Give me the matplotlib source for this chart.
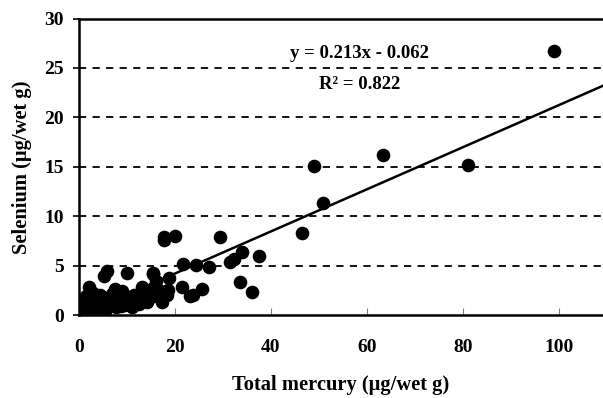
import numpy as np
import matplotlib
matplotlib.use("Agg")
import matplotlib.pyplot as plt

# total mercury (ug/wet g) and selenium (ug/wet g)
mercury = [
    0.4, 0.6, 0.8, 1.0, 1.1, 1.3, 1.5, 1.7, 1.9, 2.0, 2.2, 2.4, 2.6, 2.8, 3.0,
    3.2, 3.4, 3.6, 3.8, 4.0, 4.2, 4.5, 4.8, 5.0, 5.3, 5.5, 5.8, 6.0, 6.3, 6.6,
    7.0, 7.2, 7.5, 7.8, 8.0, 8.3, 8.6, 9.0, 9.4, 9.8, 10.2, 10.6, 11.0, 11.5,
    12.0, 12.4, 13.0, 13.5, 14.0, 14.6, 15.2, 16.0, 16.8, 17.5, 18.5, 2.1, 7.6,
    9.0, 13.2, 16.0, 5.9, 5.2, 10.1, 15.5, 15.8, 15.5, 17.4, 18.3, 5.0, 11.0,
    3.0, 17.7, 17.7, 20.0, 29.4, 34.0, 32.3, 31.5, 37.6, 27.1, 24.4, 21.7,
    18.8, 15.5, 21.4, 25.6, 23.1, 23.8, 33.5, 36.0, 46.4, 49.0, 50.8, 63.4,
    81.0, 99.0, 0.5, 1.4, 2.9, 4.4, 6.8, 8.8, 12.6, 14.2,
]
selenium = [
    1.2, 0.5, 0.9, 1.4, 0.3, 0.7, 1.0, 1.6, 0.4, 1.2, 0.8, 1.5, 0.6, 1.1, 1.8,
    0.9, 1.3, 0.5, 1.0, 1.6, 1.2, 0.8, 1.4, 1.0, 1.7, 0.4, 1.2, 1.5, 0.9, 1.3,
    1.8, 1.1, 1.5, 0.8, 1.3, 1.9, 1.2, 1.6, 1.0, 1.4, 1.8, 1.2, 1.6, 2.0,
    1.4, 1.8, 2.2, 1.6, 2.0, 1.7, 2.3, 2.0, 2.4, 2.2, 2.5, 2.8, 2.6,
    2.4, 2.8, 3.45, 4.5, 3.95, 4.3, 4.3, 2.9, 1.9, 1.3, 2.0, 0.3, 0.8,
    0.2, 7.6, 7.9, 8.0, 7.9, 6.4, 5.7, 5.4, 6.0, 4.9, 5.1, 5.2,
    3.75, 4.2, 2.8, 2.6, 1.9, 2.0, 3.3, 2.3, 8.3, 15.1, 11.3, 16.2,
    15.2, 26.7, 0.8, 1.9, 2.2, 2.0, 2.1, 0.9, 1.1, 1.3,
]

slope, intercept, r2 = 0.213, -0.062, 0.822

fig = plt.figure(figsize=(6.03, 3.98), dpi=100)
ax = fig.add_axes([0.131, 0.2085, 0.869, 0.745])

plt.rcParams['font.family'] = ['Liberation Serif', 'DejaVu Serif']
bold = dict(family=['Liberation Serif', 'DejaVu Serif'], fontweight='bold')

ax.plot(mercury, selenium, 'o', color='black', markersize=8.8, zorder=3)

xmax = 109.2
xs = np.array([0, xmax])
ax.plot(xs, slope * xs + intercept, color='black', lw=1.8, zorder=2)

ax.set_xlim(0, xmax)
ax.set_ylim(0, 30)
ax.set_xticks([0, 20, 40, 60, 80, 100])
ax.set_yticks([0, 5, 10, 15, 20, 25, 30])
for yv in [5, 10, 15, 20, 25]:
    ax.axhline(yv, color='black', lw=1.3, ls=(0, (4, 3.5)), zorder=1)

ax.spines['right'].set_visible(False)
for s in ['left', 'bottom', 'top']:
    ax.spines[s].set_linewidth(1.8)
ax.tick_params(axis='x', direction='in', length=5, width=0.8, color='gray', pad=17)
ax.tick_params(axis='y', direction='out', length=4, width=1.2, pad=7)
for lab in ax.get_xticklabels() + ax.get_yticklabels():
    lab.set_fontsize(14)
    lab.set_fontweight('bold')
    lab.set_family(['Liberation Serif', 'DejaVu Serif'])

ax.set_xlabel('Total mercury (µg/wet g)', fontsize=14.8, labelpad=14, **bold)
ax.set_ylabel('Selenium (µg/wet g)', fontsize=14.8, labelpad=9, **bold)

ax.text(58.5, 26.5, 'y = %.3fx - %.3f' % (slope, -intercept), ha='center', va='center',
        fontsize=13.5, **bold)
ax.text(58.5, 23.3, 'R² = %.3f' % r2, ha='center', va='center', fontsize=13.5, **bold)

fig.savefig('out.png', dpi=100)
